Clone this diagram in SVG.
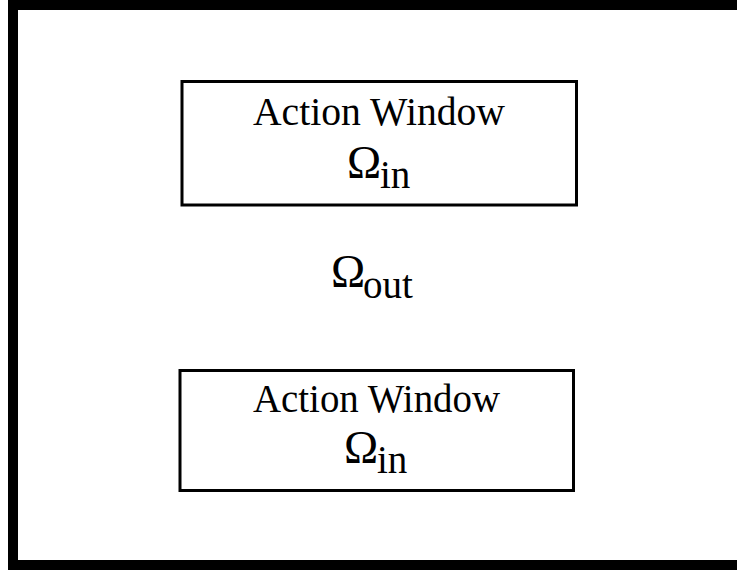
<svg xmlns="http://www.w3.org/2000/svg" width="737" height="571" viewBox="0 0 737 571">
<style>
.frame{fill:none;stroke:#000;stroke-width:10}
.box{fill:#fff;stroke:#000;stroke-width:3}
.t{font-family:"Liberation Serif","Times New Roman",serif;font-size:39px;fill:#000}
.om{font-size:46px}
</style>
<rect width="737" height="571" fill="#fff"/>
<rect class="frame" x="13" y="5" width="737" height="560"/>
<g id="window-top">
<rect class="box" x="182" y="81.5" width="394.5" height="123.5"/>
<text class="t" x="253" y="125" textLength="252" lengthAdjust="spacingAndGlyphs">Action Window</text>
<text class="t" x="347" y="178"><tspan class="om">Ω</tspan><tspan x="380" y="188">in</tspan></text>
</g>
<g id="omega-out">
<text class="t" x="331" y="287"><tspan class="om">Ω</tspan><tspan x="363" y="298">out</tspan></text>
</g>
<g id="window-bottom">
<rect class="box" x="180" y="370.5" width="393.5" height="120"/>
<text class="t" x="253" y="412" textLength="247" lengthAdjust="spacingAndGlyphs">Action Window</text>
<text class="t" x="344" y="463"><tspan class="om">Ω</tspan><tspan x="377" y="473">in</tspan></text>
</g>
<g id="connectors"/>
</svg>
